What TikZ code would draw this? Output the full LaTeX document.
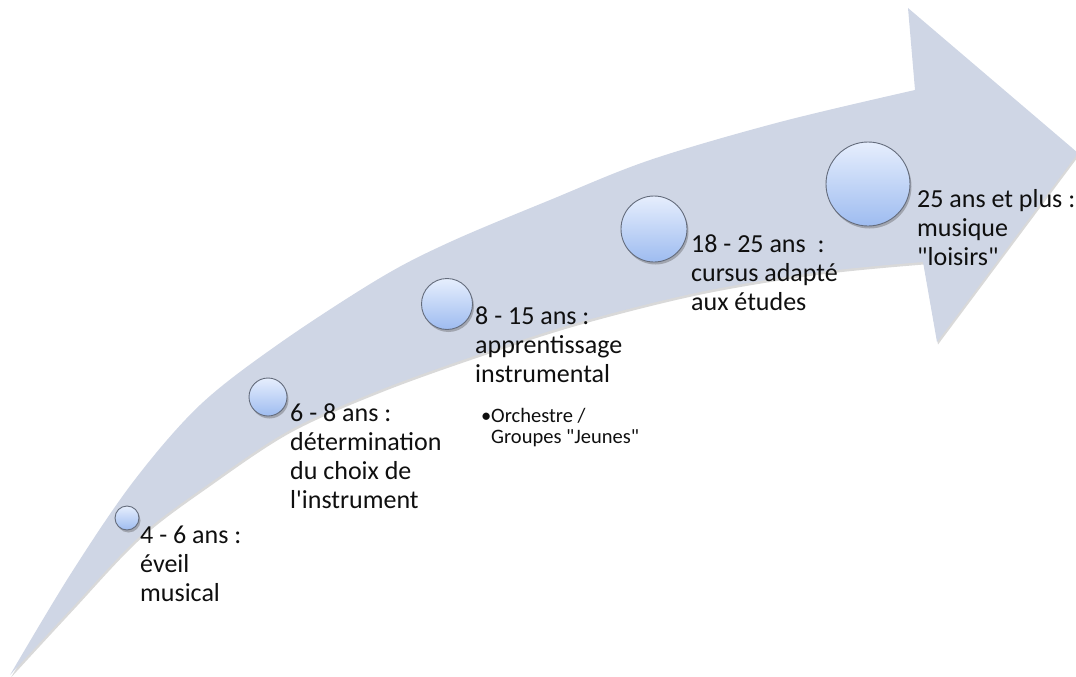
\documentclass[tikz,border=0pt]{standalone}
\usepackage{fontspec}
\setmainfont{Carlito}[Ligatures=TeXOff]
\usetikzlibrary{shadows}
\definecolor{bandcol}{RGB}{207,214,229}
\definecolor{ctop}{RGB}{230,238,253}
\definecolor{cbot}{RGB}{158,188,240}
\definecolor{cedge}{RGB}{100,108,124}
\definecolor{txt}{RGB}{15,15,15}
\tikzset{
  stagedot/.style={circle, draw=cedge, line width=0.9pt, top color=ctop, bottom color=cbot,
    minimum size=#1, inner sep=0pt,
    drop shadow={shadow xshift=1.5pt, shadow yshift=-2.5pt, opacity=0.35, fill=black!70}},
  lbl/.style={anchor=base west, inner sep=0pt, align=left, text=txt,
    font=\fontsize{26}{29.3}\selectfont},
  sublbl/.style={anchor=base west, inner sep=0pt, align=left, text=txt,
    font=\fontsize{20.5}{21.5}\selectfont},
}
\begin{document}
\begin{tikzpicture}[x=1pt,y=-1pt]
\useasboundingbox (0,0) rectangle (1076,677);
% curved arrow band
\fill[bandcol, drop shadow={shadow xshift=1pt, shadow yshift=-2.5pt, opacity=0.25, fill=black!60}]
  plot[smooth, tension=0.55] coordinates {(10,675) (70,575) (133,482) (200,405) (280,343) (380,278) (450,242) (550,200) (650,160) (780,122) (915,90)}
  -- (908,8) -- (1078,153) -- (937,342) -- (923,262)
  -- plot[smooth, tension=0.55] coordinates {(923,262) (820,272) (700,292) (580,322) (480,354) (380,390) (290,430) (210,483) (140,536) (70,610) (10,675)}
  -- cycle;
% stage circles
\node[stagedot=24pt] (c1) at (127,518) {};
\node[stagedot=38pt] (c2) at (268,397) {};
\node[stagedot=51pt] (c3) at (447,304) {};
\node[stagedot=66pt] (c4) at (654,229) {};
\node[stagedot=84pt] (c5) at (868,184) {};
% labels (anchored at the baseline of their last line)
\node[lbl] (t1) at (140,601.6) {4 - 6 ans :\\éveil\\musical};
\node[lbl] (t2) at (290,508.9) {6 - 8 ans :\\détermination\\du choix de\\l'instrument};
\node[lbl] (t3) at (475,382.6) {8 - 15 ans :\\apprentissage\\instrumental};
\node[sublbl] (t3b) at (481,443.5) {\makebox[10pt][l]{•}Orchestre /\\\hspace{10pt}Groupes "Jeunes"};
\node[lbl] (t4) at (691,310.6) {18 - 25 ans~~:\\cursus adapté\\aux études};
\node[lbl] (t5) at (917,265.6) {25 ans et plus :\\musique\\"loisirs"};
\end{tikzpicture}
\end{document}
